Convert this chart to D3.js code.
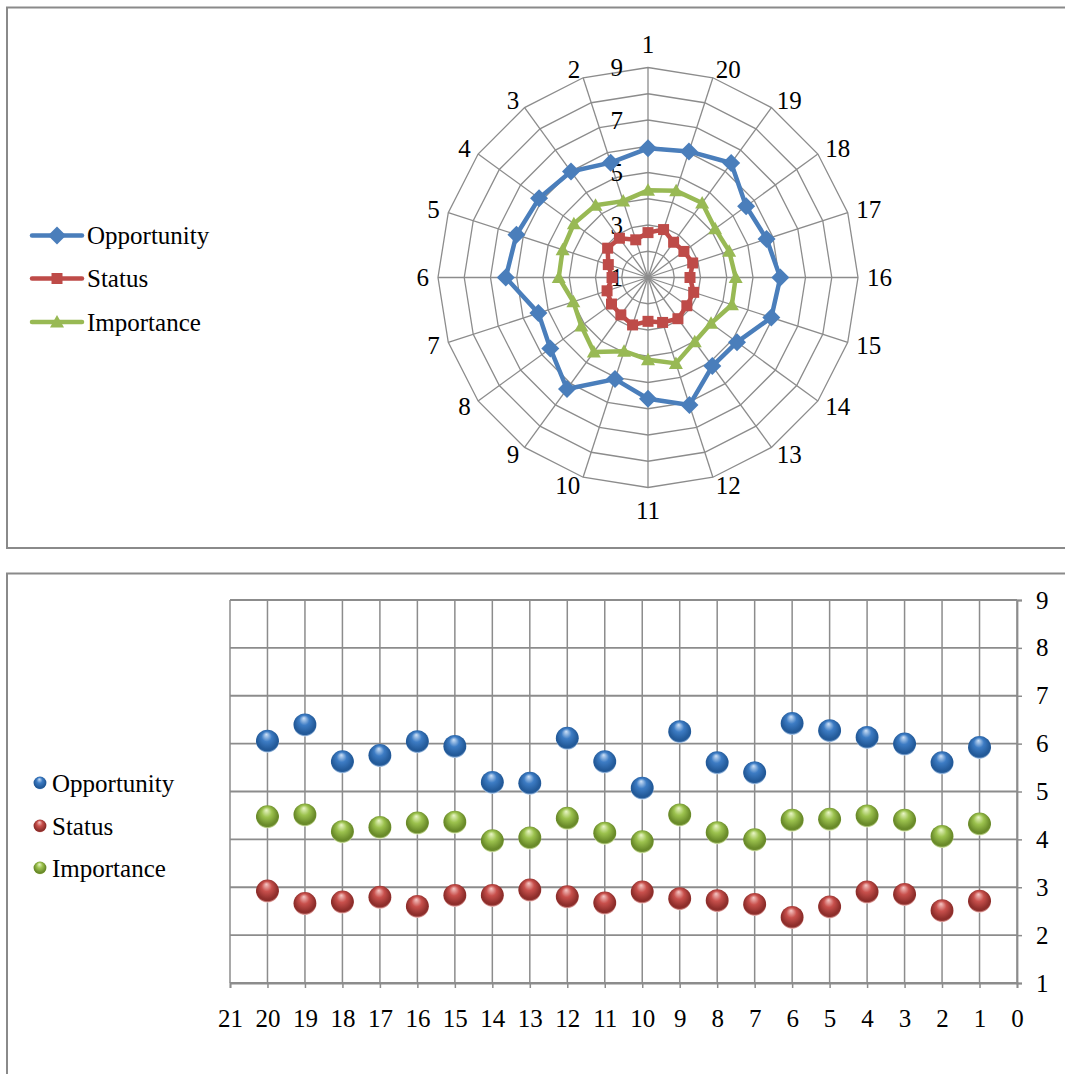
<!DOCTYPE html>
<html>
<head>
<meta charset="utf-8">
<script src="https://cdn.jsdelivr.net/npm/d3@7"></script>
<style>
  html, body { margin: 0; padding: 0; background: #fff; }
  svg { display: block; }
  text { font-family: "Liberation Serif", "Times New Roman", serif; fill: #000; }
</style>
</head>
<body>
<svg id="chart" width="1065" height="1074"></svg>
<script>
// ---------- DATA ----------
const categories = ["1","2","3","4","5","6","7","8","9","10","11","12","13","14","15","16","17","18","19","20"];
const categoryNumbers = [1,2,3,4,5,6,7,8,9,10,11,12,13,14,15,16,17,18,19,20];
const seriesNames = ["Opportunity", "Status", "Importance"];
const opportunity = [5.92, 5.60, 5.99, 6.13, 6.27, 6.42, 5.39, 5.60, 6.25, 5.07, 5.62, 6.11, 5.17, 5.19, 5.94, 6.04, 5.75, 5.62, 6.39, 6.05];
const status      = [2.71, 2.51, 2.85, 2.90, 2.59, 2.37, 2.64, 2.72, 2.76, 2.90, 2.67, 2.80, 2.94, 2.83, 2.83, 2.60, 2.79, 2.69, 2.66, 2.92];
const importance  = [4.32, 4.06, 4.40, 4.49, 4.42, 4.40, 3.99, 4.14, 4.51, 3.95, 4.13, 4.44, 4.03, 3.97, 4.36, 4.34, 4.25, 4.16, 4.51, 4.47];
const radarTickLabels = [1, 3, 5, 7, 9];
const radarRings = [2, 3, 4, 5, 6, 7, 8, 9];
const scatterXTicks = [21,20,19,18,17,16,15,14,13,12,11,10,9,8,7,6,5,4,3,2,1,0];
const scatterYTicks = [1,2,3,4,5,6,7,8,9];

// ---------- STYLE ----------
const colors = { Opportunity: "#4A7EBB", Status: "#BE4B48", Importance: "#98B954" };
const ballMid = { Opportunity: "#3D7CC4", Status: "#C8504C", Importance: "#9CC24E" };
const dark   = { Opportunity: "#235A99", Status: "#8E2E2B", Importance: "#6A8B2A" };
const light  = { Opportunity: "#CFE2F8", Status: "#F6C8C6", Importance: "#EAF6C8" };
const seriesData = { Opportunity: opportunity, Status: status, Importance: importance };
const FONT = 25;
const gridColor = "#8C8C8C";

const svg = d3.select("#chart");

// Panel frames
svg.append("path").attr("d", "M1066,7.5 H7 V548 H1066")
  .attr("fill", "none").attr("stroke", "#8A8A8A").attr("stroke-width", 2);
svg.append("path").attr("d", "M1066,573.5 H7 V1075")
  .attr("fill", "none").attr("stroke", "#8A8A8A").attr("stroke-width", 2);

// ---------- RADAR ----------
const cx = 648, cy = 277.5, R = 210;
const rScale = d3.scaleLinear().domain([1, 9]).range([0, R]);
const angleScale = d3.scaleLinear().domain([0, 20]).range([0, 2 * Math.PI]);
const angleOf = i => angleScale((20 - i) % 20); // item 1 at top, counter-clockwise

const radar = svg.append("g").attr("transform", `translate(${cx},${cy})`);

const ringLine = d3.lineRadial().curve(d3.curveLinearClosed);
radarRings.forEach(v => {
  radar.append("path")
    .attr("d", ringLine(categories.map((c, i) => [angleOf(i), rScale(v)])))
    .attr("fill", "none").attr("stroke", gridColor).attr("stroke-width", 1.3);
});
categories.forEach((c, i) => {
  const a = angleOf(i);
  radar.append("line")
    .attr("x1", 0).attr("y1", 0)
    .attr("x2", rScale(9) * Math.sin(a)).attr("y2", -rScale(9) * Math.cos(a))
    .attr("stroke", gridColor).attr("stroke-width", 1.3);
});

// category labels
categories.forEach((c, i) => {
  const a = angleOf(i);
  const ux = Math.sin(a), uy = -Math.cos(a);
  const ex = rScale(9) * ux, ey = rScale(9) * uy;
  let anchor = "middle", tx, ty;
  if (Math.abs(ux) < 0.01) {
    tx = ex; ty = ey + uy * 23;
  } else {
    anchor = ux > 0 ? "start" : "end";
    tx = ex + ux * 9; ty = ey + uy * 9;
  }
  radar.append("text").attr("x", tx).attr("y", ty)
    .attr("text-anchor", anchor).attr("dominant-baseline", "central")
    .attr("font-size", FONT).text(c);
});

// radial tick labels
radarTickLabels.forEach(v => {
  radar.append("text").attr("x", -25).attr("y", -rScale(v))
    .attr("text-anchor", "end").attr("dominant-baseline", "central")
    .attr("font-size", FONT).text(v);
});

// series lines
const seriesLine = d3.lineRadial().curve(d3.curveLinearClosed);
const markerPath = {
  Opportunity: "M0,-9 L9,0 L0,9 L-9,0 Z",
  Status: "M-5.5,-5.5 H5.5 V5.5 H-5.5 Z",
  Importance: "M0,-7 L7,5.5 L-7,5.5 Z"
};
seriesNames.forEach(name => {
  const vals = seriesData[name];
  radar.append("path")
    .attr("d", seriesLine(vals.map((v, i) => [angleOf(i), rScale(v)])))
    .attr("fill", "none").attr("stroke", colors[name]).attr("stroke-width", 4.5)
    .attr("stroke-linejoin", "round");
});
seriesNames.forEach(name => {
  const vals = seriesData[name];
  vals.forEach((v, i) => {
    const a = angleOf(i), r = rScale(v);
    radar.append("path").attr("d", markerPath[name])
      .attr("transform", `translate(${r * Math.sin(a)},${-r * Math.cos(a)})`)
      .attr("fill", colors[name]);
  });
});

// radar legend
const legY = [235.5, 278.5, 322];
seriesNames.forEach((name, k) => {
  const g = svg.append("g").attr("transform", `translate(0,${legY[k]})`);
  g.append("line").attr("x1", 32).attr("x2", 82).attr("y1", 0).attr("y2", 0)
    .attr("stroke", colors[name]).attr("stroke-width", 4.5).attr("stroke-linecap", "round");
  g.append("path").attr("d", markerPath[name]).attr("transform", "translate(57,0)").attr("fill", colors[name]);
  g.append("text").attr("x", 87).attr("y", 0).attr("dominant-baseline", "central")
    .attr("font-size", FONT).text(name);
});

// ---------- SCATTER ----------
const defs = svg.append("defs");
seriesNames.forEach(name => {
  const gr = defs.append("radialGradient").attr("id", "ball-" + name)
    .attr("cx", "50%").attr("cy", "45%").attr("r", "55%")
    .attr("fx", "45%").attr("fy", "20%");
  gr.append("stop").attr("offset", "0%").attr("stop-color", light[name]);
  gr.append("stop").attr("offset", "40%").attr("stop-color", ballMid[name]);
  gr.append("stop").attr("offset", "82%").attr("stop-color", dark[name]);
  gr.append("stop").attr("offset", "90%").attr("stop-color", dark[name]);
  gr.append("stop").attr("offset", "100%").attr("stop-color", light[name]);
});

const x = d3.scaleLinear().domain([21, 0]).range([230, 1017]);
const y = d3.scaleLinear().domain([1, 9]).range([983, 600]);

const grid = svg.append("g");
scatterXTicks.forEach(t => {
  grid.append("line").attr("x1", x(t)).attr("x2", x(t)).attr("y1", y(9)).attr("y2", y(1))
    .attr("stroke", gridColor).attr("stroke-width", 1.5);
});
scatterYTicks.forEach(t => {
  grid.append("line").attr("x1", x(21)).attr("x2", x(0)).attr("y1", y(t)).attr("y2", y(t))
    .attr("stroke", gridColor).attr("stroke-width", 1.8);
});

const xAxis = svg.append("g").attr("transform", `translate(0,${y(1)})`)
  .call(d3.axisBottom(x).tickValues(scatterXTicks).tickFormat(d3.format("d")).tickSize(5).tickPadding(21));
const yAxis = svg.append("g").attr("transform", `translate(${x(0)},0)`)
  .call(d3.axisRight(y).tickValues(scatterYTicks).tickFormat(d3.format("d")).tickSize(5).tickPadding(14));
[xAxis, yAxis].forEach(ax => {
  ax.select(".domain").attr("stroke", gridColor).attr("stroke-width", 1.8);
  ax.selectAll(".tick line").attr("stroke", gridColor).attr("stroke-width", 1.5);
  ax.selectAll(".tick text").attr("font-size", FONT)
    .style("font-family", '"Liberation Serif", "Times New Roman", serif').attr("fill", "#000");
});

const balls = svg.append("g");
seriesNames.forEach(name => {
  seriesData[name].forEach((v, i) => {
    const bx = x(categoryNumbers[i]), by = y(v);
    balls.append("circle").attr("cx", bx).attr("cy", by).attr("r", 11.5)
      .attr("fill", `url(#ball-${name})`);
  });
});

// scatter legend
const leg2Y = [783, 826, 868];
seriesNames.forEach((name, k) => {
  svg.append("circle").attr("cx", 40).attr("cy", leg2Y[k]).attr("r", 6.5)
    .attr("fill", `url(#ball-${name})`);
  svg.append("text").attr("x", 52).attr("y", leg2Y[k]).attr("dominant-baseline", "central")
    .attr("font-size", FONT).text(name);
});
</script>
</body>
</html>
